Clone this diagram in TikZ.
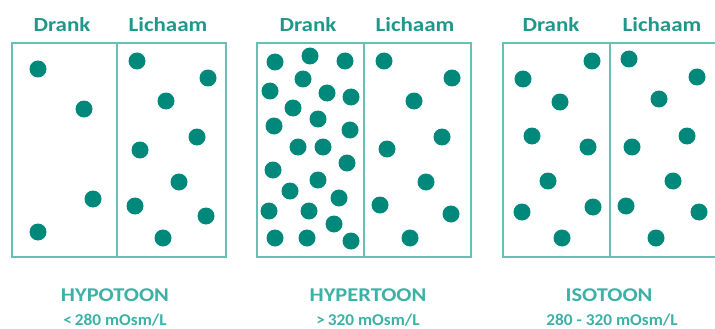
\documentclass[tikz,border=0pt]{standalone}
\usepackage{fontspec}
\setmainfont{Carlito}
\definecolor{boxc}{HTML}{66C1B5}
\definecolor{dotc}{HTML}{00897A}
\definecolor{headc}{HTML}{1F988B}
\definecolor{labc}{HTML}{3CB1A6}
\tikzset{
  panel/.style={draw=boxc, line width=1.8pt},
  dotfill/.style={fill=dotc},
  head/.style={text=headc, font=\bfseries\fontsize{20}{20}\selectfont, anchor=base, inner sep=0pt},
  lab/.style={text=labc, font=\bfseries\fontsize{19.5}{19.5}\selectfont, anchor=base, inner sep=0pt},
  sub/.style={text=labc, font=\bfseries\fontsize{16.5}{16.5}\selectfont, anchor=base, inner sep=0pt}
}
\newcommand{\mydots}[1]{\foreach \p in {#1} {\fill[dotfill] \p circle (8.5);}}
\begin{document}
\begin{tikzpicture}[x=1pt,y=-1pt]
\useasboundingbox (0,0) rectangle (715,329);
\clip (0,0) rectangle (715,329);
% panel 1
\draw[panel] (12,43) rectangle (226,257);
\draw[panel] (117,43) -- (117,257);
\node[head] (d1) at (62,32) {\scalebox{1.15}[1]{Drank}};
\node[head] (l1) at (168,32) {\scalebox{1.15}[1]{Lichaam}};
\mydots{(38,69),(84,109),(93,199),(38,232),
(137,61),(208,78),(166,101),(197,137),(140,150),(179,182),(135,206),(206,216),(163,238)}
% panel 2
\draw[panel] (257,43) rectangle (471,257);
\draw[panel] (364,43) -- (364,257);
\node[head] (d2) at (308,32) {\scalebox{1.15}[1]{Drank}};
\node[head] (l2) at (415,32) {\scalebox{1.15}[1]{Lichaam}};
\mydots{(275,62),(310,56),(345,61),(303,79),(270,91),(327,93),(351,97),(293,108),(318,119),(274,126),(350,130),(298,147),(323,147),(347,163),(273,170),(318,180),(290,191),(339,198),(269,211),(309,211),(334,224),(275,238),(307,238),(351,241),
(384,61),(452,78),(414,101),(442,137),(387,149),(426,182),(380,205),(451,214),(410,238)}
% panel 3
\draw[panel] (503,43) rectangle (718,257);
\draw[panel] (610,43) -- (610,257);
\node[head] (d3) at (551,32) {\scalebox{1.15}[1]{Drank}};
\node[head] (l3) at (662,32) {\scalebox{1.15}[1]{Lichaam}};
\mydots{(592,61),(523,79),(560,102),(532,136),(588,147),(548,181),(522,212),(593,207),(562,238),
(629,59),(697,77),(659,99),(687,136),(632,147),(673,181),(626,206),(699,212),(656,238)}
% labels
\node[lab] (t1) at (115,301) {\scalebox{1.15}[1]{HYPOTOON}};
\node[sub] (s1) at (115,325) {\scalebox{1.05}[1]{<\,280 mOsm/L}};
\node[lab] (t2) at (368,301) {\scalebox{1.15}[1]{HYPERTOON}};
\node[sub] (s2) at (368,325) {\scalebox{1.05}[1]{>\,320 mOsm/L}};
\node[lab] (t3) at (609,301) {\scalebox{1.15}[1]{ISOTOON}};
\node[sub] (s3) at (612,325) {\scalebox{1.05}[1]{280 - 320 mOsm/L}};
\end{tikzpicture}
\end{document}
